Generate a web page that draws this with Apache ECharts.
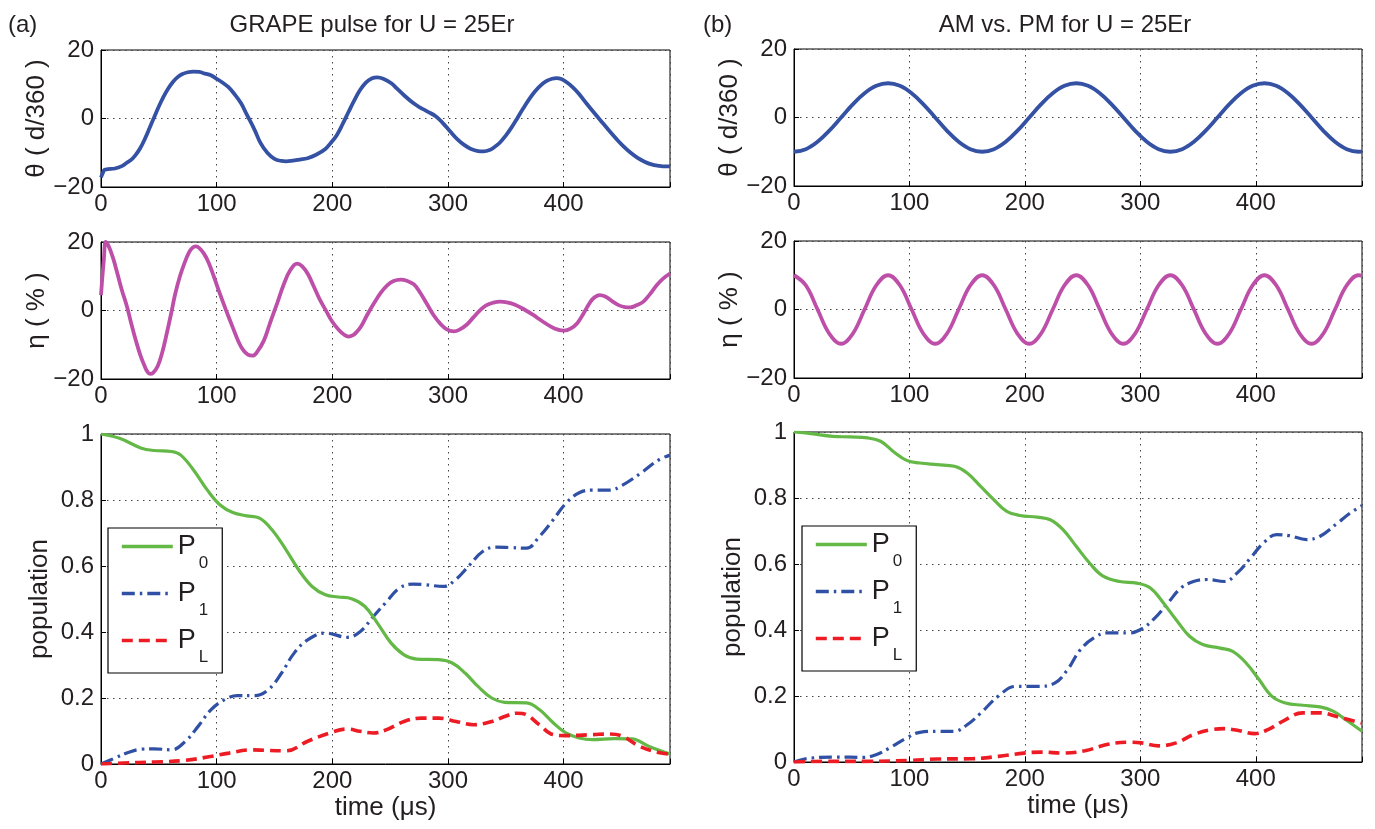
<!DOCTYPE html>
<html><head><meta charset="utf-8">
<script src="https://cdn.jsdelivr.net/npm/echarts@6/dist/echarts.min.js"></script>
<style>html,body{margin:0;padding:0;background:#fff}#c{width:1375px;height:829px}</style>
</head><body><div id="c"></div>
<script>
// ---------------- data (time in µs) ----------------
const xTickValues = [0, 100, 200, 300, 400];
const xMax = 492;

// (a) GRAPE pulse: theta (d/360)
const thetaA = [[0,-17.2],[1.5,-16],[3,-15],[6,-14.8],[12,-14.6],[18,-13.9],[22,-13.0],[26,-12.1],[30,-10.6],[34,-8.6],[38,-5.9],[42,-2.8],[46,0.4],[50,3.5],[54,6.3],[58,8.7],[62,10.6],[66,12],[70,12.9],[75,13.5],[80,13.7],[85,13.6],[90,13.1],[95,12.6],[100,11.6],[105,10.5],[110,9.2],[115,7.3],[121,4.5],[126,1.2],[132.8,-3.3],[138,-7.2],[144,-10.1],[150,-11.8],[156,-12.4],[160,-12.5],[166,-12.3],[172,-12],[178.6,-11.6],[186,-10.6],[194,-8.9],[199,-7.0],[204,-4.8],[209,-1.6],[214,1.9],[219,5.3],[224,8.3],[229,10.5],[234,11.7],[239,12.0],[244,11.6],[251,10.3],[256,8.7],[262,6.8],[270,4.5],[276,3.2],[282,2.1],[289.7,0.6],[296,-1.5],[302,-3.8],[308,-6],[314,-7.7],[320,-8.9],[326,-9.5],[331,-9.6],[336,-9.2],[340,-8.4],[345,-7.0],[350,-5.0],[355,-2.6],[360,0.1],[365,2.9],[370,5.5],[375,7.8],[380,9.6],[385,10.9],[390,11.6],[394,11.8],[398,11.5],[403,10.5],[408,9.1],[413,7.3],[420,4.3],[428,1.0],[434,-1.4],[440,-3.8],[446,-6.1],[452,-8.2],[458,-10.0],[464,-11.5],[470,-12.6],[476,-13.4],[482,-13.8],[488,-14.0],[492,-14.0]];

// (a) GRAPE pulse: eta (%)
const etaA = [[0,4.5],[1,9],[2.5,15],[4,20],[6,19.2],[8.5,17.2],[11,14.7],[14,11],[18,6],[22.5,1.1],[26,-3.6],[30,-8.6],[34,-13],[37.8,-16.3],[40,-17.8],[42.4,-18.5],[45,-18.2],[49,-16.3],[53,-12.2],[57,-6.5],[60.7,-0.8],[64,4.6],[68,9.7],[72,13.7],[76,16.9],[79,18.3],[82,18.7],[85,18.2],[89,16.6],[93,14],[97.5,10],[102.7,5],[108,0.2],[114,-5],[119,-9.2],[123,-11.6],[127,-12.9],[131,-13.2],[135,-12.1],[140.8,-8.8],[146,-3.8],[152.3,2.1],[158,7.6],[163.7,11.8],[169.5,13.7],[174,12.9],[179,10.6],[184,7],[189,3.3],[194.3,0.1],[200,-3.3],[205.7,-5.7],[210,-7],[214,-7.6],[218,-7.2],[221,-6.3],[224.8,-4.7],[230,-1.4],[236,2.1],[242,5.2],[247.7,7.4],[253,8.6],[259,9.0],[265,8.6],[270.6,7.6],[276,5.2],[282,1.8],[287.5,-1.3],[293.5,-3.9],[299,-5.5],[305,-6.1],[310,-5.6],[316.4,-4.1],[322,-2],[327.9,0.1],[333,1.5],[339.3,2.3],[345,2.6],[351,2.4],[358,1.7],[366,0.3],[373.7,-1.3],[381,-3],[389,-4.7],[395,-5.6],[400.4,-5.9],[406,-5.3],[411.8,-3.7],[417,-1],[423.3,2.6],[427,3.9],[431,4.5],[436,4.1],[442.4,2.6],[448,1.5],[453,1],[457.6,0.9],[463,1.5],[469,2.6],[474.5,4.7],[480.5,7.4],[486,9.3],[492,10.8]];

// (a) populations
const p0A = [[0,1],[16,0.987],[35,0.957],[46,0.95],[61,0.947],[69,0.936],[80,0.891],[92,0.83],[103,0.785],[114,0.762],[126,0.752],[137,0.745],[148,0.709],[160,0.649],[171,0.588],[182.5,0.538],[194,0.513],[205,0.506],[216.6,0.501],[228,0.478],[239,0.427],[250.7,0.367],[262,0.331],[273,0.318],[292,0.316],[303.7,0.306],[315,0.275],[326,0.235],[337.8,0.2],[349,0.187],[368,0.185],[379,0.165],[391,0.125],[402,0.094],[413.5,0.079],[425,0.074],[443.8,0.077],[459,0.076],[474,0.053],[492,0.03]];
const p1A = [[0,0],[12,0.018],[23.5,0.035],[35,0.045],[46,0.046],[61,0.043],[73,0.069],[84,0.114],[95,0.164],[107,0.195],[118,0.207],[133,0.207],[144.6,0.225],[156,0.275],[167,0.336],[178.7,0.376],[194,0.397],[213,0.384],[224,0.401],[235.5,0.447],[247,0.492],[258,0.533],[269.6,0.545],[281,0.543],[296,0.538],[307,0.56],[318.7,0.603],[330,0.644],[341.5,0.657],[353,0.656],[368,0.654],[379,0.689],[391,0.74],[402,0.79],[413.5,0.822],[425,0.83],[440,0.83],[451,0.845],[466.5,0.881],[482,0.921],[492,0.936]];
const pLA = [[0,0],[19.7,0.003],[46,0.006],[73,0.011],[92,0.021],[110.6,0.033],[129.5,0.043],[144.6,0.041],[160,0.04],[178.7,0.069],[197.7,0.094],[213,0.106],[224,0.099],[235.5,0.094],[247,0.104],[262,0.129],[277,0.139],[292,0.139],[307,0.129],[322,0.119],[338,0.129],[349,0.144],[360,0.154],[368,0.149],[379,0.119],[391,0.089],[402,0.086],[425,0.089],[440,0.091],[451,0.084],[466,0.053],[482,0.035],[492,0.03]];

// (b) AM vs PM: shared sample times
const tB = [0,10.2,20.4,30.6,40.8,50.9,61.1,71.3,81.5,91.7,101.9,112.1,122.3,132.4,142.6,152.8,163,173.2,183.4,193.6,203.8,213.9,224.1,234.3,244.5,254.7,264.9,275.1,285.3,295.4,305.6,315.8,326,336.2,346.4,356.6,366.8,376.9,387.1,397.3,407.5,417.7,427.9,438.1,448.3,458.4,468.6,478.8,489,492];
const thetaB = [-10,-9.24,-7.07,-3.83,0,3.83,7.07,9.24,10,9.24,7.07,3.83,0,-3.83,-7.07,-9.24,-10,-9.24,-7.07,-3.83,0,3.83,7.07,9.24,10,9.24,7.07,3.83,0,-3.83,-7.07,-9.24,-10,-9.24,-7.07,-3.83,0,3.83,7.07,9.24,10,9.24,7.07,3.83,0,-3.83,-7.07,-9.24,-10,-9.97];
const etaB = [10,7.07,0,-7.07,-10,-7.07,0,7.07,10,7.07,0,-7.07,-10,-7.07,0,7.07,10,7.07,0,-7.07,-10,-7.07,0,7.07,10,7.07,0,-7.07,-10,-7.07,0,7.07,10,7.07,0,-7.07,-10,-7.07,0,7.07,10,7.07,0,-7.07,-10,-7.07,0,7.07,10,9.9];

// (b) populations
const p0B = [[0,1],[14.7,0.995],[33.5,0.987],[48.6,0.985],[63.7,0.982],[75,0.972],[86,0.941],[97.6,0.914],[109,0.906],[124,0.901],[139,0.896],[150,0.876],[161.7,0.835],[173,0.795],[184,0.76],[195.6,0.747],[210.7,0.742],[222,0.734],[233,0.704],[244.6,0.653],[256,0.603],[267,0.565],[282,0.547],[297,0.542],[308.7,0.527],[320,0.482],[331,0.431],[342.6,0.381],[354,0.356],[369,0.345],[380,0.335],[391.6,0.3],[403,0.249],[414,0.199],[425.6,0.179],[440.6,0.172],[455.7,0.167],[467,0.154],[478,0.128],[492,0.093]];
const p1B = [[0,0],[14.7,0.012],[37,0.015],[60,0.014],[71,0.022],[82.5,0.042],[97.6,0.073],[109,0.09],[124,0.093],[139,0.093],[150,0.113],[161.7,0.148],[176.8,0.199],[192,0.229],[210.7,0.229],[225.8,0.239],[237,0.28],[248,0.34],[259.7,0.376],[271,0.391],[290,0.391],[301,0.403],[312.5,0.436],[324,0.482],[335,0.527],[346,0.547],[357.7,0.553],[372.8,0.547],[384,0.573],[395.4,0.618],[406.7,0.664],[418,0.689],[429,0.686],[444,0.674],[455.7,0.684],[470.8,0.724],[482,0.755],[492,0.777]];
const pLB = [[0,0],[26,0.002],[63.7,0.002],[101,0.005],[124,0.009],[154,0.01],[177,0.017],[199,0.027],[214.5,0.03],[233,0.027],[252,0.034],[271,0.053],[290,0.06],[301,0.058],[316,0.049],[331,0.058],[346,0.083],[361.5,0.098],[372.8,0.101],[384,0.096],[399,0.086],[410.5,0.098],[425.6,0.128],[440.6,0.149],[455.7,0.149],[470.8,0.137],[492,0.118]];

const titles = ['GRAPE pulse for U = 25Er', 'AM vs. PM for U = 25Er'];
const panelTags = ['(a)', '(b)'];
const legendNames = ['P0', 'P1', 'PL'];

// ---------------- chart ----------------
const FONT = '"Liberation Sans", Arial, sans-serif';
const INK = '#231f20';
const C_THETA = '#3451a3', C_ETA = '#bd4fa9', C_P0 = '#63b846', C_P1 = '#3050a5', C_PL = '#ed1c24';

const gridBoxes = [
  {left:101, top:50,  width:569, height:137},
  {left:101, top:242, width:569, height:137},
  {left:101, top:434, width:569, height:330},
  {left:794, top:49,  width:568, height:137},
  {left:794, top:241, width:568, height:137},
  {left:794, top:432, width:568, height:330}
];
const fmtNum = v => v < 0 ? '\u2212' + (-v) : String(v);
const dotted = {show:true, lineStyle:{type:[1.5,4.5], color:'#444', width:1}};

const grid = gridBoxes.map(g => Object.assign({show:true, borderColor:'#000', borderWidth:1, backgroundColor:'#fff'}, g));
const xAxis = gridBoxes.map((g, i) => ({
  type:'value', gridIndex:i, min:0, max:xMax, interval:100,
  axisLine:{show:true, onZero:false, lineStyle:{color:'#000', width:1}},
  axisTick:{show:true, inside:true, length:5, lineStyle:{color:'#000'}},
  axisLabel:{fontFamily:FONT, fontSize:24, color:INK, margin:5,
             formatter: v => xTickValues.indexOf(v) >= 0 ? String(v) : ''},
  splitLine: dotted,
  name: (i === 2 || i === 5) ? 'time (\u03bcs)' : '',
  nameLocation:'middle', nameGap:31,
  nameTextStyle:{fontFamily:FONT, fontSize:26, color:INK}
}));
const yNames = ['\u03b8 ( d/360 )', '\u03b7 ( % )', 'population'];
const yAxis = gridBoxes.map((g, i) => {
  const k = i % 3;
  const isPop = k === 2;
  return {
    type:'value', gridIndex:i,
    min: isPop ? 0 : -20, max: isPop ? 1 : 20, interval: isPop ? 0.2 : 20,
    axisLine:{show:true, onZero:false, lineStyle:{color:'#000', width:1}},
    axisTick:{show:true, inside:true, length:5, lineStyle:{color:'#000'}},
    axisLabel:{fontFamily:FONT, fontSize:24, color:INK, margin:7, formatter: fmtNum},
    splitLine: dotted,
    name: yNames[k], nameLocation:'middle', nameGap: isPop ? 48 : 46,
    nameTextStyle:{fontFamily:FONT, fontSize:26, color:INK}
  };
});

function line(name, idx, data, color, width, type, z) {
  return {
    name, type:'line', xAxisIndex:idx, yAxisIndex:idx, data,
    showSymbol:false, symbol:'none', smooth:0.4, animation:false,
    lineStyle:{color, width, type: type || 'solid'}, itemStyle:{color}, z: z || 2
  };
}
const zipT = (t, v) => t.map((x, i) => [x, v[i]]);

const series = [
  line('thetaA', 0, thetaA, C_THETA, 3.8),
  line('etaA', 1, etaA, C_ETA, 3.8),
  line('P0a', 2, p0A, C_P0, 3.2, 'solid', 3),
  line('P1a', 2, p1A, C_P1, 3.2, [13,5,2.5,5], 2),
  line('PLa', 2, pLA, C_PL, 3.6, [11,6], 4),
  line('thetaB', 3, zipT(tB, thetaB), C_THETA, 3.8),
  line('etaB', 4, zipT(tB, etaB), C_ETA, 3.8),
  line('P0b', 5, p0B, C_P0, 3.2, 'solid', 3),
  line('P1b', 5, p1B, C_P1, 3.2, [13,5,2.5,5], 2),
  line('PLb', 5, pLB, C_PL, 3.6, [11,6], 4)
];

function legendAt(left, top, suffix) {
  return {
    orient:'vertical', left, top, padding:[5,14,7,12], itemGap:8,
    itemWidth:51, itemHeight:14, borderColor:'#000', borderWidth:1.2,
    backgroundColor:'#fff', selectedMode:false, z:10,
    itemStyle:{opacity:0, borderWidth:0},
    lineStyle:{width:3.6},
    data: legendNames.map(n => n + suffix),
    formatter: name => '{p|P}{s|' + name.charAt(1) + '}',
    textStyle:{fontFamily:FONT, fontSize:24, color:INK,
      rich:{
        p:{fontFamily:FONT, fontSize:27, color:INK, lineHeight:27, verticalAlign:'top'},
        s:{fontFamily:FONT, fontSize:17, color:INK, lineHeight:17, verticalAlign:'top', padding:[22,0,0,3]}
      }}
  };
}

const textStyle = (s, x, y, align) => ({
  type:'text', x, y, z:20,
  style:{text:s, font:'24px ' + FONT, fill:INK, align: align || 'center', verticalAlign:'middle'}
});

const option = {
  backgroundColor:'#fff',
  animation:false,
  grid, xAxis, yAxis, series,
  legend:[legendAt(108, 528, 'a'), legendAt(802, 526, 'b')],
  graphic:[
    textStyle(titles[0], 372, 25),
    textStyle(titles[1], 1065, 25),
    textStyle(panelTags[0], 8, 25, 'left'),
    textStyle(panelTags[1], 703, 25, 'left')
  ]
};
const chart = echarts.init(document.getElementById('c'), null, {renderer:'canvas'});
chart.setOption(option);
</script></body></html>
